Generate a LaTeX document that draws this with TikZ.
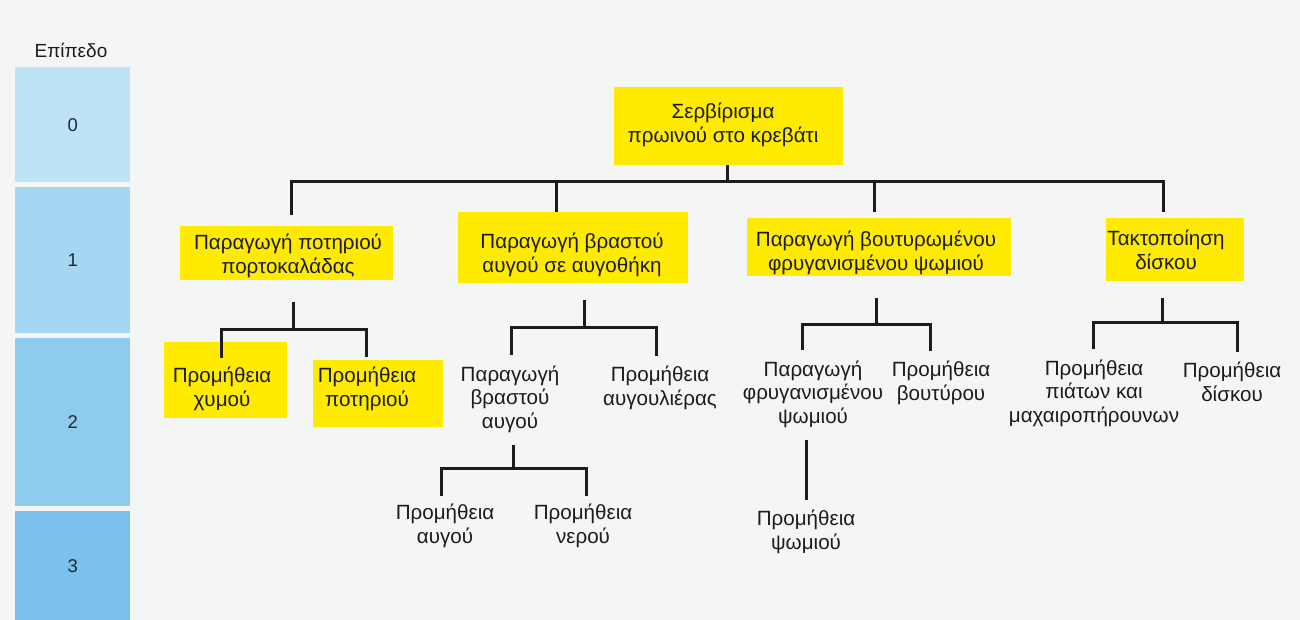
\documentclass[tikz,border=0pt]{standalone}
\usepackage{fontspec}
\setmainfont{Liberation Sans}
\definecolor{bg}{RGB}{244,246,246}
\definecolor{ink}{RGB}{28,28,28}
\definecolor{hl}{RGB}{255,235,0}
\definecolor{lv0}{RGB}{190,227,247}
\definecolor{lv1}{RGB}{166,215,242}
\definecolor{lv2}{RGB}{142,203,238}
\definecolor{lv3}{RGB}{122,193,236}
\definecolor{lvtxt}{RGB}{30,40,55}
\begin{document}
\begin{tikzpicture}[x=1pt,y=-1pt,
  wire/.style={line width=3pt, draw=ink},
  ybox/.style={fill=hl, draw=none, inner sep=0pt},
  txt/.style={align=center, inner sep=0pt, text=ink, font=\fontsize{20.6}{23.5}\selectfont},
  lvl/.style={fill=#1, draw=none, minimum width=115pt, inner sep=0pt, anchor=north west,
              text=lvtxt, font=\fontsize{18.5}{22}\selectfont},
]
% canvas
\fill[bg] (0,0) rectangle (1300,620);
\useasboundingbox (0,0) rectangle (1300,620);

% level scale on the left
\node[text=ink, font=\fontsize{19}{22}\selectfont] (lvtitle) at (71,50) {Επίπεδο};
\node[lvl=lv0, minimum height=115pt] (L0) at (15,67)  {0};
\node[lvl=lv1, minimum height=146pt] (L1) at (15,187) {1};
\node[lvl=lv2, minimum height=168pt] (L2) at (15,338) {2};
\node[lvl=lv3, minimum height=109pt] (L3) at (15,511) {3};

% highlighted boxes
\node[ybox, minimum width=229pt, minimum height=78pt] (B0)  at (728.5,126) {};
\node[ybox, minimum width=213pt, minimum height=54pt] (B1a) at (286.5,253) {};
\node[ybox, minimum width=230pt, minimum height=71pt] (B1b) at (573,247.5) {};
\node[ybox, minimum width=264pt, minimum height=58pt] (B1c) at (879,247) {};
\node[ybox, minimum width=138pt, minimum height=63pt] (B1d) at (1175,249.5) {};
\node[ybox, minimum width=123pt, minimum height=76pt] (B2a) at (225.5,380) {};
\node[ybox, minimum width=130pt, minimum height=67pt] (B2b) at (378,393.5) {};

% texts
\node[txt] (T0)  at (723,125)  {Σερβίρισμα\\πρωινού στο κρεβάτι};
\node[txt] (T1a) at (288,256)  {Παραγωγή ποτηριού\\πορτοκαλάδας};
\node[txt] (T1b) at (572,255)  {Παραγωγή βραστού\\αυγού σε αυγοθήκη};
\node[txt] (T1c) at (876,253)  {Παραγωγή βουτυρωμένου\\φρυγανισμένου ψωμιού};
\node[txt] (T1d) at (1166,250) {Τακτοποίηση\\δίσκου};
\node[txt] (T2a) at (222,389)  {Προμήθεια\\χυμού};
\node[txt] (T2b) at (367,389)  {Προμήθεια\\ποτηριού};
\node[txt] (T2c) at (510,399)  {Παραγωγή\\βραστού\\αυγού};
\node[txt] (T2d) at (660,388)  {Προμήθεια\\αυγουλιέρας};
\node[txt] (T2e) at (813,394)  {Παραγωγή\\φρυγανισμένου\\ψωμιού};
\node[txt] (T2f) at (941,383)  {Προμήθεια\\βουτύρου};
\node[txt] (T2g) at (1094,393) {Προμήθεια\\πιάτων και\\μαχαιροπήρουνων};
\node[txt] (T2h) at (1232,382) {Προμήθεια\\δίσκου};
\node[txt] (T3a) at (445,526)  {Προμήθεια\\αυγού};
\node[txt] (T3b) at (583,526)  {Προμήθεια\\νερού};
\node[txt] (T3c) at (806,532)  {Προμήθεια\\ψωμιού};

% level 0 -> 1
\coordinate (J0) at (727,182);
\draw[wire] (B0.south -| J0) -- (J0);
\draw[wire] (J0) -| ([xshift=4.5pt,yshift=11pt]B1a.north);
\draw[wire] (J0) -| ([xshift=-17pt]B1b.north);
\draw[wire] (J0) -| ([xshift=-5pt,yshift=6pt]B1c.north);
\draw[wire] (J0) -| ([xshift=-12pt,yshift=6pt]B1d.north);

% level 1 -> 2
\coordinate (J1a) at (293,329);
\draw[wire, shorten <=22pt] (B1a.south -| J1a) -- (J1a);
\draw[wire] (J1a) -| ([xshift=-4pt,yshift=-16pt]B2a.north);
\draw[wire] (J1a) -| ([xshift=-12pt,yshift=3pt]B2b.north);

\coordinate (J1b) at (584,327);
\draw[wire, shorten <=17pt] (B1b.south -| J1b) -- (J1b);
\draw[wire] (J1b) -| ([xshift=1pt,yshift=10pt]T2c.north);
\draw[wire] (J1b) -| ([xshift=-4pt,yshift=10pt]T2d.north);

\coordinate (J1c) at (876,324);
\draw[wire, shorten <=22pt] (B1c.south -| J1c) -- (J1c);
\draw[wire] (J1c) -| ([xshift=-11pt,yshift=10pt]T2e.north);
\draw[wire] (J1c) -| ([xshift=-11pt,yshift=10pt]T2f.north);

\coordinate (J1d) at (1162,322);
\draw[wire, shorten <=17pt] (B1d.south -| J1d) -- (J1d);
\draw[wire] (J1d) -| ([xshift=-1pt,yshift=10pt]T2g.north);
\draw[wire] (J1d) -| ([xshift=5pt,yshift=10pt]T2h.north);

% level 2 -> 3
\coordinate (J2c) at (513,468);
\draw[wire, shorten <=12pt] (T2c.south -| J2c) -- (J2c);
\draw[wire] (J2c) -| ([xshift=-4pt,yshift=8pt]T3a.north);
\draw[wire] (J2c) -| ([xshift=3pt,yshift=8pt]T3b.north);

\draw[wire, shorten <=12pt, shorten >=10pt] ([xshift=-7pt]T2e.south) -- ([xshift=0pt]T3c.north);
\end{tikzpicture}
\end{document}
